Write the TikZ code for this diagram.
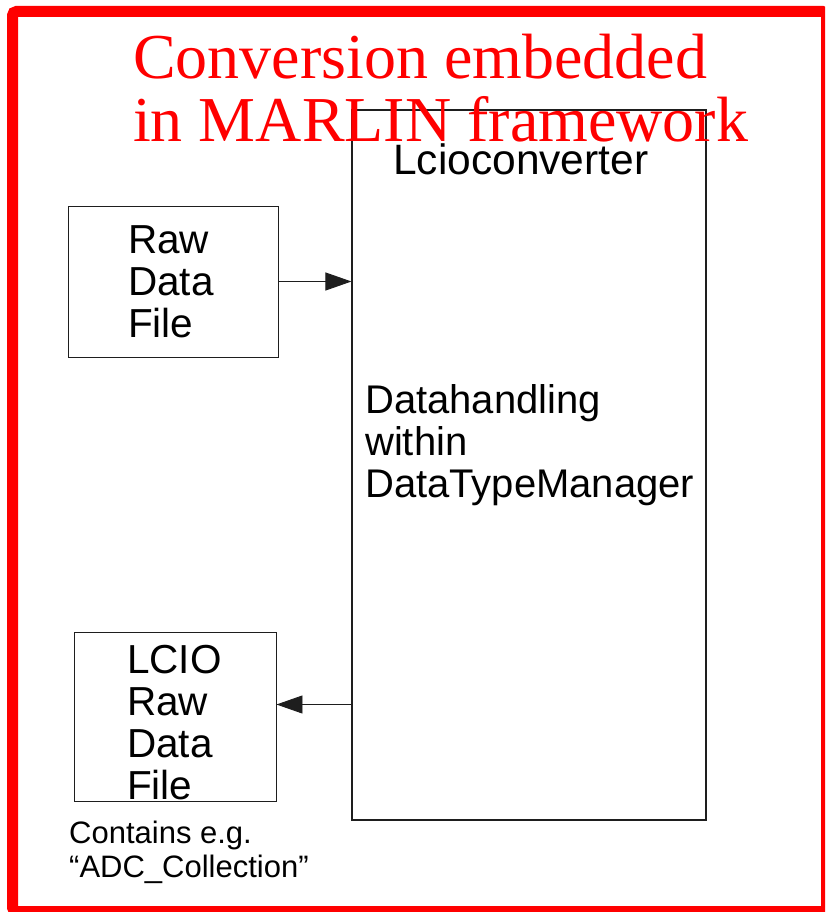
\documentclass[tikz,border=0pt]{standalone}
\usepackage{fontspec}
\setmainfont{Liberation Serif}
\newfontfamily\hv{Liberation Sans}
\usetikzlibrary{arrows.meta}
\definecolor{framered}{RGB}{255,0,0}
\definecolor{lineblack}{RGB}{30,30,30}

% multi-line labels are placed by the baseline of their last line
\tikzset{
  x=1pt, y=-1pt,
  box/.style={draw=lineblack, line width=0.9pt, rectangle, inner sep=0pt, fill=none},
  flow/.style={draw=lineblack, line width=0.9pt, -{Triangle[length=26pt,width=18pt]}},
  sanslabel/.style={anchor=base west, inner sep=0pt, align=left, text=black,
    font=\hv\fontsize{40.5}{42}\selectfont},
  titletext/.style={anchor=base west, inner sep=0pt, align=left, text=framered,
    font=\fontsize{64}{63}\selectfont},
}

\begin{document}
\begin{tikzpicture}
  \useasboundingbox (0,0) rectangle (825,912);
  \clip (0,0) rectangle (825,912);
  \fill[white] (0,0) rectangle (825,912);

  % outer red frame
  \draw[framered, line width=11pt, rounded corners=4pt] (12.5,11.5) rectangle (826.5,911.5);

  % boxes
  \node[box, minimum width=354pt, minimum height=710pt, line width=1.1pt] (conv) at (529,465) {};
  \node[box, minimum width=210pt, minimum height=151pt] (raw) at (173,281.5) {};
  \node[box, minimum width=202pt, minimum height=169pt] (lcio) at (175,716.5) {};

  % connectors
  \draw[flow] (raw.east) -- (raw.east -| conv.west);
  \coordinate (tap) at (conv.west |- 0,704.5);
  \draw[flow] (tap) -- (tap -| lcio.east);

  % texts
  \node[sanslabel, font=\hv\fontsize{42.5}{42}\selectfont] (convname) at (393,175) {Lcioconverter};
  \node[sanslabel, font=\hv\fontsize{40}{42}\selectfont] (convtext) at (365,497) {Datahandling\\within\\DataTypeManager};
  \node[sanslabel] (rawtext) at (128,337) {Raw\\Data\\File};
  \node[sanslabel] (lciotext) at (127,799) {LCIO\\Raw\\Data\\File};
  \node[sanslabel, font=\hv\fontsize{31}{34}\selectfont] (note) at (69,877) {Contains e.g.\\“ADC\_Collection”};

  \node[titletext] (title) at (133,142) {Conversion embedded\\in MARLIN framework};
\end{tikzpicture}
\end{document}
